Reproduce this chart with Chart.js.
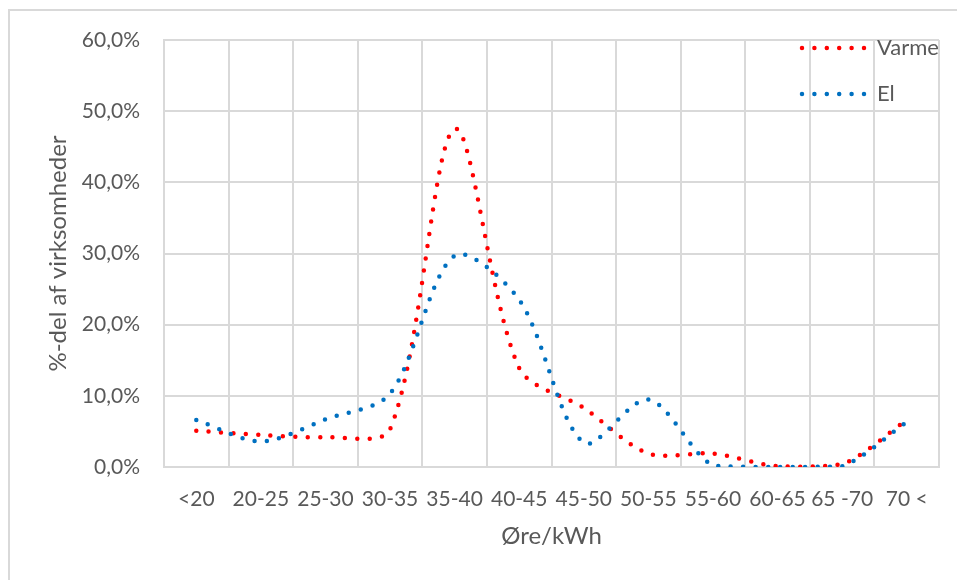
<!DOCTYPE html>
<html>
<head>
<meta charset="utf-8">
<script src="https://cdn.jsdelivr.net/npm/chart.js@4.4.1/dist/chart.umd.min.js"></script>
<style>
  html, body { margin: 0; padding: 0; background: #fff; }
  #wrap { width: 957px; height: 580px; }
</style>
</head>
<body>
<div id="wrap"><canvas id="chart" width="957" height="580"></canvas></div>
<script>
const categories = ['<20', '20-25', '25-30', '30-35', '35-40', '40-45', '45-50', '50-55', '55-60', '60-65', '65 -70', '70 <'];
const varmeValues = [5.1, 4.5, 4.2, 5.3, 47.5, 13.9, 8.3, 1.9, 1.9, 0.1, 0.4, 6.6];
const elValues = [6.6, 3.6, 6.7, 10.3, 29.7, 23.5, 3.4, 9.5, 0.2, 0, 0.1, 6.3];
const seriesNames = ['Varme', 'El'];
const yMax = 60;
const yStep = 10;

const textColor = '#595959';
const gridColor = '#d9d9d9';
const fontFamily = 'Lato, "Open Sans", sans-serif';
const dotDash = [0, 12.4];

// grey frame of the chart object (only left and top are visible)
const framePlugin = {
    id: 'frame',
    beforeDraw(chart) {
        const ctx = chart.ctx;
        ctx.save();
        ctx.fillStyle = '#fff';
        ctx.fillRect(0, 0, chart.width, chart.height);
        ctx.strokeStyle = gridColor;
        ctx.lineWidth = 2;
        ctx.beginPath();
        ctx.moveTo(9, chart.height);
        ctx.lineTo(9, 10);
        ctx.lineTo(chart.width, 10);
        ctx.stroke();
        ctx.restore();
    }
};

// legend drawn on top of the plot, like the excel one
const legendPlugin = {
    id: 'dotLegend',
    afterDraw(chart) {
        const ctx = chart.ctx;
        ctx.save();
        chart.data.datasets.forEach((ds, i) => {
            const y = 48 + i * 46;
            ctx.strokeStyle = ds.borderColor;
            ctx.lineWidth = ds.borderWidth;
            ctx.lineCap = 'round';
            ctx.setLineDash(dotDash);
            ctx.beginPath();
            ctx.moveTo(802, y);
            ctx.lineTo(865, y);
            ctx.stroke();
            ctx.setLineDash([]);
            ctx.fillStyle = textColor;
            ctx.font = '22px ' + fontFamily;
            ctx.textAlign = 'left';
            ctx.textBaseline = 'middle';
            ctx.fillText(ds.label, 877, y);
        });
        ctx.restore();
    }
};

const ctx = document.getElementById('chart').getContext('2d');
new Chart(ctx, {
    type: 'line',
    data: {
        labels: categories,
        datasets: [
            {
                label: seriesNames[0],
                data: varmeValues,
                borderColor: '#ff0000',
                borderWidth: 4.5,
                borderDash: dotDash,
                borderCapStyle: 'round',
                pointRadius: 0,
                tension: 0.3,
                fill: false,
                order: 2
            },
            {
                label: seriesNames[1],
                data: elValues,
                borderColor: '#0070c0',
                borderWidth: 4.5,
                borderDash: dotDash,
                borderCapStyle: 'round',
                pointRadius: 0,
                tension: 0.3,
                fill: false,
                order: 1
            }
        ]
    },
    options: {
        responsive: false,
        animation: false,
        devicePixelRatio: 1,
        layout: { padding: { left: 0, top: 40, right: 18, bottom: 0 } },
        plugins: {
            legend: { display: false },
            tooltip: { enabled: false }
        },
        scales: {
            x: {
                offset: true,
                grid: { offset: true, color: gridColor, lineWidth: 2, drawTicks: false },
                border: { color: gridColor, width: 2 },
                ticks: {
                    color: textColor,
                    font: { family: fontFamily, size: 21 },
                    padding: 20,
                    maxRotation: 0,
                    autoSkip: false
                },
                title: {
                    display: true,
                    text: 'Øre/kWh',
                    color: textColor,
                    font: { family: fontFamily, size: 24 },
                    padding: { top: 0, bottom: 29 }
                },
                afterFit(scale) { scale.height = 113; }
            },
            y: {
                min: 0,
                max: yMax,
                grid: { color: gridColor, lineWidth: 2, drawTicks: false },
                border: { color: gridColor, width: 2 },
                ticks: {
                    stepSize: yStep,
                    color: textColor,
                    font: { family: fontFamily, size: 21 },
                    padding: 24,
                    callback: v => v.toFixed(1).replace('.', ',') + '%'
                },
                title: {
                    display: true,
                    text: '%-del af virksomheder',
                    color: textColor,
                    font: { family: fontFamily, size: 24 },
                    padding: { top: 44, bottom: 0 }
                },
                afterFit(scale) { scale.width = 164; }
            }
        }
    },
    plugins: [framePlugin, legendPlugin]
});
</script>
</body>
</html>
